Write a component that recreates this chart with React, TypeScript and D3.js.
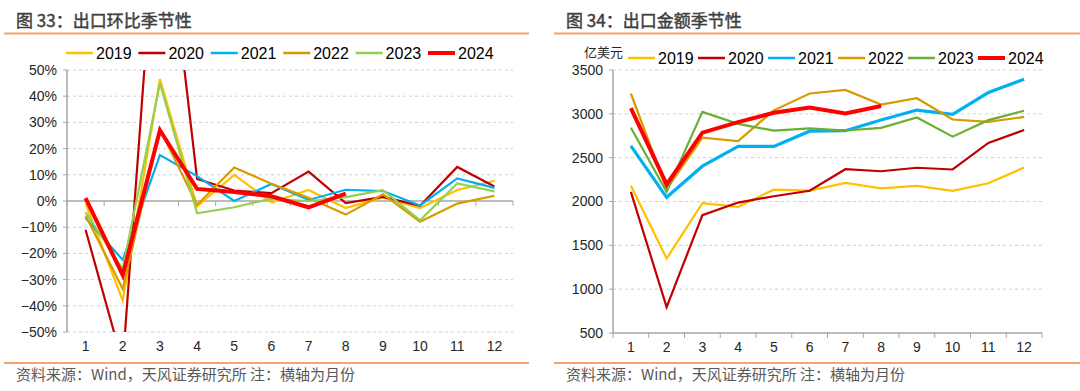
import React from "react";
import * as d3 from "d3";

const months = ["1", "2", "3", "4", "5", "6", "7", "8", "9", "10", "11", "12"];
const years = ["2019", "2020", "2021", "2022", "2023", "2024"];

// 出口环比（%）
const mom2019 = [-1, -38, 46.5, -2, 10, -0.5, 4.2, -2.7, 1.4, -2.7, 4.2, 7.7];
const mom2020 = [-11, -62, 131, 8.4, 4, 3, 11.2, -0.8, 1.6, -1.8, 13, 5.5];
const mom2021 = [-6.5, -22.5, 17.5, 9.5, 0, 6.5, 0.4, 4.3, 3.8, -1.7, 8.6, 5];
const mom2022 = [-5.5, -33.6, 27.5, -1.5, 12.8, 6.6, 1.2, -5.2, 2.6, -7.9, -1, 2];
const mom2023 = [-4.2, -26, 45, -4.7, -2.4, 0.9, -0.1, 1.5, 4.1, -7.4, 6.7, 3.7];
const mom2024 = [1.1, -28.3, 27, 4.6, 3.4, 1.8, -2.4, 2.8];

// 出口金额（亿美元）
const val2019 = [2180, 1350, 1980, 1940, 2135, 2125, 2212, 2150, 2178, 2122, 2208, 2388];
const val2020 = [2110, 795, 1845, 1988, 2060, 2122, 2368, 2345, 2385, 2365, 2668, 2815];
const val2021 = [2635, 2048, 2403, 2628, 2628, 2802, 2808, 2930, 3043, 2993, 3243, 3395];
const val2022 = [3232, 2140, 2728, 2690, 3040, 3232, 3272, 3106, 3178, 2935, 2908, 2965];
const val2023 = [2842, 2110, 3022, 2886, 2808, 2835, 2810, 2840, 2958, 2740, 2928, 3035];
const val2024 = [3065, 2195, 2785, 2905, 3012, 3072, 3003, 3090];

const momTicks = [-50, -40, -30, -20, -10, 0, 10, 20, 30, 40, 50];
const valTicks = [500, 1000, 1500, 2000, 2500, 3000, 3500];

const momSeries = [mom2019, mom2020, mom2021, mom2022, mom2023, mom2024];
const valSeries = [val2019, val2020, val2021, val2022, val2023, val2024];

const leftColors = ["#FFC000", "#C00000", "#00B0F0", "#D99A00", "#92D050", "#FF0000"];
const rightColors = ["#FFC000", "#C00000", "#00B0F0", "#D99A00", "#6AAE35", "#FF0000"];

const FONT = "'Liberation Sans', Arial, 'Noto Sans CJK SC', sans-serif";
const CJK = "'Noto Sans CJK SC', 'Liberation Sans', sans-serif";
const ORANGE = "#F5A46A";
const TEXT = "#262626";
const AXIS = "#A6A6A6";
const GRID = "#D0D0D0";

type PanelProps = {
  id: string;
  left: number;
  title: string;
  ruleX: [number, number];
  plot: { x0: number; x1: number; y0: number; y1: number };
  domain: [number, number];
  ticks: number[];
  fmt: (v: number) => string;
  series: number[][];
  colors: string[];
  widths: number[];
  baseline: number;
  legendX: number;
  legendStep: number;
  legendY: number;
  unit?: string;
};

const Panel = (p: PanelProps) => {
  const x = d3.scaleBand<string>().domain(months).range([p.plot.x0, p.plot.x1]);
  const y = d3.scaleLinear().domain(p.domain).range([p.plot.y1, p.plot.y0]);
  const cx = (i: number) => (x(months[i]) ?? 0) + x.bandwidth() / 2;
  const line = d3
    .line<number>()
    .x((_, i) => cx(i))
    .y((d) => y(d));
  const baseY = y(p.baseline);
  const boundaries = d3.range(months.length + 1).map((i) => p.plot.x0 + i * x.bandwidth());

  return (
    <g>
      <defs>
        <clipPath id={p.id}>
          <rect x={p.plot.x0} y={p.plot.y0} width={p.plot.x1 - p.plot.x0} height={p.plot.y1 - p.plot.y0} />
        </clipPath>
      </defs>
      <text
        x={p.left}
        y={27}
        fontFamily={CJK}
        fontSize={17}
        fill="#404040"
        stroke="#404040"
        strokeWidth={0.45}
      >
        {p.title}
      </text>
      <line x1={p.ruleX[0]} x2={p.ruleX[1]} y1={33.5} y2={33.5} stroke={ORANGE} strokeWidth={2} />
      <line x1={p.ruleX[0]} x2={p.ruleX[1]} y1={363} y2={363} stroke={ORANGE} strokeWidth={2} />
      <text x={p.left} y={380} fontFamily={CJK} fontSize={15} fill="#595959">
        资料来源：Wind，天风证券研究所 注：横轴为月份
      </text>

      {/* grid */}
      {p.ticks.map((t) =>
        t === p.baseline ? null : (
          <line
            key={t}
            x1={p.plot.x0}
            x2={p.plot.x1}
            y1={y(t)}
            y2={y(t)}
            stroke={GRID}
            strokeDasharray="3,3"
            strokeWidth={1}
          />
        )
      )}
      {p.ticks.map((t) => (
        <g key={"yt" + t}>
          <line x1={p.plot.x0 - 4} x2={p.plot.x0} y1={y(t)} y2={y(t)} stroke={AXIS} />
          <text
            x={p.plot.x0 - 10}
            y={y(t)}
            dy="0.35em"
            textAnchor="end"
            fontFamily={FONT}
            fontSize={14}
            fill={TEXT}
          >
            {p.fmt(t)}
          </text>
        </g>
      ))}
      <line x1={p.plot.x0} x2={p.plot.x0} y1={p.plot.y0} y2={p.plot.y1} stroke={AXIS} strokeWidth={1.5} />
      <line x1={p.plot.x0} x2={p.plot.x1} y1={baseY} y2={baseY} stroke={AXIS} strokeWidth={1.5} />
      {boundaries.map((bx, i) => (
        <line key={"xt" + i} x1={bx} x2={bx} y1={baseY} y2={baseY + 5} stroke={AXIS} />
      ))}
      {months.map((m, i) => (
        <text
          key={m}
          x={cx(i)}
          y={p.plot.y1 + 19}
          textAnchor="middle"
          fontFamily={FONT}
          fontSize={14}
          fill={TEXT}
        >
          {m}
        </text>
      ))}

      <g clipPath={`url(#${p.id})`}>
        {p.series.map((s, k) => (
          <path
            key={years[k]}
            d={line(s) ?? ""}
            fill="none"
            stroke={p.colors[k]}
            strokeWidth={p.widths[k]}
            strokeLinejoin="miter"
          />
        ))}
      </g>

      {/* legend */}
      {p.unit && (
        <text x={p.legendX - 5} y={p.legendY - 1} textAnchor="end" fontFamily={CJK} fontSize={13} fill={TEXT}>
          {p.unit}
        </text>
      )}
      {years.map((yr, k) => {
        const lx = p.legendX + k * p.legendStep;
        return (
          <g key={"lg" + yr}>
            <line
              x1={lx}
              x2={lx + 27}
              y1={p.legendY}
              y2={p.legendY}
              stroke={p.colors[k]}
              strokeWidth={k === 5 ? 4 : 2.5}
            />
            <text x={lx + 30} y={p.legendY} dy="0.36em" fontFamily={FONT} fontSize={16} fill="#000">
              {yr}
            </text>
          </g>
        );
      })}
    </g>
  );
};

const App = () => {
  return (
    <svg
      width={1080}
      height={391}
      style={{ position: "absolute", left: 0, top: 0, background: "#fff" }}
    >
      <rect width={1080} height={391} fill="#fff" />
      <Panel
        id="clipL"
        left={16}
        title="图 33：出口环比季节性"
        ruleX={[4, 529]}
        plot={{ x0: 67, x1: 513, y0: 70, y1: 332 }}
        domain={[-50, 50]}
        ticks={momTicks}
        fmt={(v) => (v < 0 ? "\u2212" + Math.abs(v) : String(v)) + "%"}
        series={momSeries}
        colors={leftColors}
        widths={[2.2, 2.2, 2.2, 2.2, 2.2, 4]}
        baseline={0}
        legendX={66}
        legendStep={72.4}
        legendY={53}
      />
      <Panel
        id="clipR"
        left={566}
        title="图 34：出口金额季节性"
        ruleX={[554, 1080]}
        plot={{ x0: 613, x1: 1042, y0: 70, y1: 333 }}
        domain={[500, 3500]}
        ticks={valTicks}
        fmt={(v) => String(v)}
        series={valSeries}
        colors={rightColors}
        widths={[2.2, 2.2, 3.2, 2.2, 2.2, 4]}
        baseline={500}
        legendX={628}
        legendStep={70}
        legendY={58}
        unit="亿美元"
      />
    </svg>
  );
};

export default App;
